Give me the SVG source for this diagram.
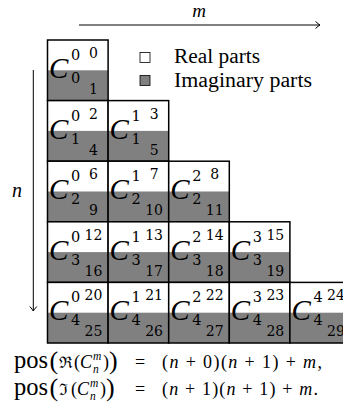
<svg xmlns="http://www.w3.org/2000/svg" width="343" height="416" viewBox="0 0 343 416">
<style>
.cell{fill:#fff;stroke:none}
.im{fill:#808080;stroke:none}
.bd{fill:none;stroke:#000;stroke-width:1.5}
.C{font-family:"Liberation Serif",serif;font-style:italic;font-size:29px;fill:#000}
.ix{font-family:"DejaVu Serif",serif;font-size:14.5px;fill:#000}
.pn{font-family:"DejaVu Serif",serif;font-size:14px;fill:#000;text-anchor:middle}
.lg{font-family:"Liberation Serif",serif;font-size:20.5px;fill:#000}
.it{font-family:"Liberation Serif",serif;font-style:italic;fill:#000}
.rm{font-family:"Liberation Serif",serif;fill:#000}
.ax{stroke:#000;stroke-width:1;fill:none}
</style>
<defs>
<marker id="arr" markerWidth="10" markerHeight="10" refX="0" refY="0" viewBox="-6 -5 8 10" orient="auto" markerUnits="userSpaceOnUse">
<path d="M-4.5,-3.5 Q-1.5,-0.8 0,0 Q-1.5,0.8 -4.5,3.5" fill="none" stroke="#000" stroke-width="1"/>
</marker>
<g id="cellbg">
<rect class="cell" x="0" y="0" width="60.6" height="30.3"/>
<rect class="im" x="0" y="30.3" width="60.6" height="30.3"/>
</g>
</defs>
<g id="connectors">
<line class="ax" x1="79" y1="25" x2="320" y2="25" marker-end="url(#arr)"/>
<line class="ax" x1="33.3" y1="70" x2="33.3" y2="311" marker-end="url(#arr)"/>
</g>
<text class="it" x="199" y="17" font-size="19" text-anchor="middle">m</text>
<text class="it" x="17" y="197" font-size="20" text-anchor="middle">n</text>
<g id="legend">
<rect x="140" y="52.5" width="10" height="10" fill="#fff" stroke="#000" stroke-width="0.8"/>
<text class="lg" x="174" y="63" textLength="86" lengthAdjust="spacingAndGlyphs">Real parts</text>
<rect x="140" y="75.5" width="10" height="10" fill="#808080" stroke="#000" stroke-width="0.8"/>
<text class="lg" x="174" y="87" textLength="138" lengthAdjust="spacingAndGlyphs">Imaginary parts</text>
</g>
<g id="n0m0" transform="translate(47.5,40)"><use href="#cellbg"/><rect class="bd" width="60.6" height="60.6"/><text class="C" x="1.5" y="38">C</text><text class="ix" x="23.5" y="20">0</text><text class="ix" x="23.5" y="43">0</text><text class="pn" x="46" y="18">0</text><text class="pn" x="46" y="54">1</text></g>
<g id="n1m0" transform="translate(47.5,100.6)"><use href="#cellbg"/><rect class="bd" width="60.6" height="60.6"/><text class="C" x="1.5" y="38">C</text><text class="ix" x="23.5" y="20">0</text><text class="ix" x="23.5" y="43">1</text><text class="pn" x="46" y="18">2</text><text class="pn" x="46" y="54">4</text></g>
<g id="n1m1" transform="translate(108.1,100.6)"><use href="#cellbg"/><rect class="bd" width="60.6" height="60.6"/><text class="C" x="1.5" y="38">C</text><text class="ix" x="23.5" y="20">1</text><text class="ix" x="23.5" y="43">1</text><text class="pn" x="46" y="18">3</text><text class="pn" x="46" y="54">5</text></g>
<g id="n2m0" transform="translate(47.5,161.2)"><use href="#cellbg"/><rect class="bd" width="60.6" height="60.6"/><text class="C" x="1.5" y="38">C</text><text class="ix" x="23.5" y="20">0</text><text class="ix" x="23.5" y="43">2</text><text class="pn" x="46" y="18">6</text><text class="pn" x="46" y="54">9</text></g>
<g id="n2m1" transform="translate(108.1,161.2)"><use href="#cellbg"/><rect class="bd" width="60.6" height="60.6"/><text class="C" x="1.5" y="38">C</text><text class="ix" x="23.5" y="20">1</text><text class="ix" x="23.5" y="43">2</text><text class="pn" x="46" y="18">7</text><text class="pn" x="46" y="54">10</text></g>
<g id="n2m2" transform="translate(168.7,161.2)"><use href="#cellbg"/><rect class="bd" width="60.6" height="60.6"/><text class="C" x="1.5" y="38">C</text><text class="ix" x="23.5" y="20">2</text><text class="ix" x="23.5" y="43">2</text><text class="pn" x="46" y="18">8</text><text class="pn" x="46" y="54">11</text></g>
<g id="n3m0" transform="translate(47.5,221.8)"><use href="#cellbg"/><rect class="bd" width="60.6" height="60.6"/><text class="C" x="1.5" y="38">C</text><text class="ix" x="23.5" y="20">0</text><text class="ix" x="23.5" y="43">3</text><text class="pn" x="46" y="18">12</text><text class="pn" x="46" y="54">16</text></g>
<g id="n3m1" transform="translate(108.1,221.8)"><use href="#cellbg"/><rect class="bd" width="60.6" height="60.6"/><text class="C" x="1.5" y="38">C</text><text class="ix" x="23.5" y="20">1</text><text class="ix" x="23.5" y="43">3</text><text class="pn" x="46" y="18">13</text><text class="pn" x="46" y="54">17</text></g>
<g id="n3m2" transform="translate(168.7,221.8)"><use href="#cellbg"/><rect class="bd" width="60.6" height="60.6"/><text class="C" x="1.5" y="38">C</text><text class="ix" x="23.5" y="20">2</text><text class="ix" x="23.5" y="43">3</text><text class="pn" x="46" y="18">14</text><text class="pn" x="46" y="54">18</text></g>
<g id="n3m3" transform="translate(229.3,221.8)"><use href="#cellbg"/><rect class="bd" width="60.6" height="60.6"/><text class="C" x="1.5" y="38">C</text><text class="ix" x="23.5" y="20">3</text><text class="ix" x="23.5" y="43">3</text><text class="pn" x="46" y="18">15</text><text class="pn" x="46" y="54">19</text></g>
<g id="n4m0" transform="translate(47.5,282.4)"><use href="#cellbg"/><rect class="bd" width="60.6" height="60.6"/><text class="C" x="1.5" y="38">C</text><text class="ix" x="23.5" y="20">0</text><text class="ix" x="23.5" y="43">4</text><text class="pn" x="46" y="18">20</text><text class="pn" x="46" y="54">25</text></g>
<g id="n4m1" transform="translate(108.1,282.4)"><use href="#cellbg"/><rect class="bd" width="60.6" height="60.6"/><text class="C" x="1.5" y="38">C</text><text class="ix" x="23.5" y="20">1</text><text class="ix" x="23.5" y="43">4</text><text class="pn" x="46" y="18">21</text><text class="pn" x="46" y="54">26</text></g>
<g id="n4m2" transform="translate(168.7,282.4)"><use href="#cellbg"/><rect class="bd" width="60.6" height="60.6"/><text class="C" x="1.5" y="38">C</text><text class="ix" x="23.5" y="20">2</text><text class="ix" x="23.5" y="43">4</text><text class="pn" x="46" y="18">22</text><text class="pn" x="46" y="54">27</text></g>
<g id="n4m3" transform="translate(229.3,282.4)"><use href="#cellbg"/><rect class="bd" width="60.6" height="60.6"/><text class="C" x="1.5" y="38">C</text><text class="ix" x="23.5" y="20">3</text><text class="ix" x="23.5" y="43">4</text><text class="pn" x="46" y="18">23</text><text class="pn" x="46" y="54">28</text></g>
<g id="n4m4" transform="translate(289.9,282.4)"><use href="#cellbg"/><rect class="bd" width="60.6" height="60.6"/><text class="C" x="1.5" y="38">C</text><text class="ix" x="23.5" y="20">4</text><text class="ix" x="23.5" y="43">4</text><text class="pn" x="46" y="18">24</text><text class="pn" x="46" y="54">29</text></g>
<g id="formula1">
<text class="rm" x="14" y="368" font-size="24.5">pos</text>
<text class="rm" x="49.5" y="369" font-size="26">(</text>
<text x="59" y="368" font-family="DejaVu Serif, serif" font-size="16">ℜ</text>
<text class="rm" x="74" y="368" font-size="18">(</text>
<text class="it" x="80" y="368" font-size="18">C</text>
<text class="it" x="93" y="360" font-size="11.5">m</text>
<text class="it" x="93" y="373" font-size="11.5">n</text>
<text class="rm" x="103" y="368" font-size="18">)</text>
<text class="rm" x="109" y="369" font-size="26">)</text>
<text class="rm" x="135" y="368" font-size="18">=</text>
<text x="162" y="368" font-size="18" textLength="160" lengthAdjust="spacing" font-family="Liberation Serif, serif"><tspan>(</tspan><tspan font-style="italic">n</tspan><tspan> + 0)(</tspan><tspan font-style="italic">n</tspan><tspan> + 1) + </tspan><tspan font-style="italic">m</tspan><tspan>,</tspan></text>
</g>
<g id="formula2">
<text class="rm" x="14" y="395" font-size="24.5">pos</text>
<text class="rm" x="49.5" y="396" font-size="26">(</text>
<text x="59" y="395" font-family="DejaVu Serif, serif" font-size="16">ℑ</text>
<text class="rm" x="71" y="395" font-size="18">(</text>
<text class="it" x="77" y="395" font-size="18">C</text>
<text class="it" x="90" y="387" font-size="11.5">m</text>
<text class="it" x="90" y="400" font-size="11.5">n</text>
<text class="rm" x="100" y="395" font-size="18">)</text>
<text class="rm" x="106" y="396" font-size="26">)</text>
<text class="rm" x="135" y="395" font-size="18">=</text>
<text x="162" y="395" font-size="18" textLength="156" lengthAdjust="spacing" font-family="Liberation Serif, serif"><tspan>(</tspan><tspan font-style="italic">n</tspan><tspan> + 1)(</tspan><tspan font-style="italic">n</tspan><tspan> + 1) + </tspan><tspan font-style="italic">m</tspan><tspan>.</tspan></text>
</g>
</svg>
